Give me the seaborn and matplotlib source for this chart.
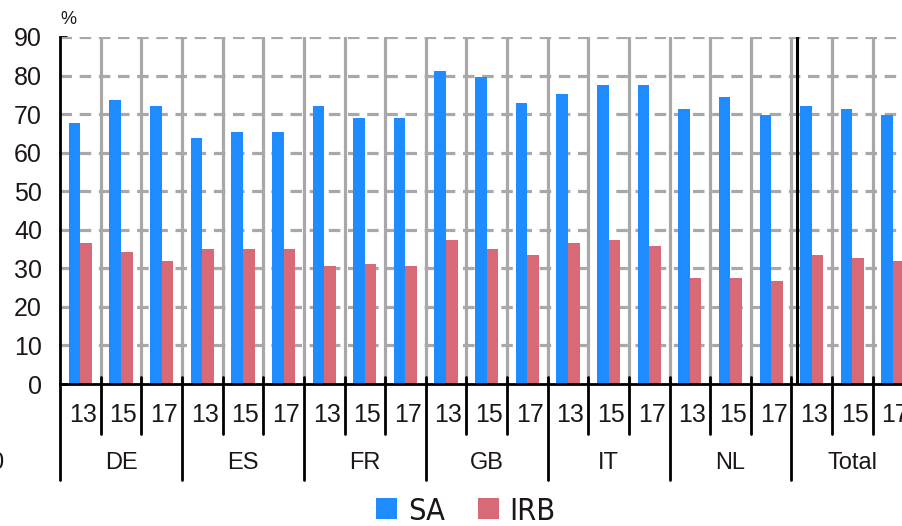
import matplotlib
matplotlib.use("Agg")
import matplotlib.pyplot as plt
from matplotlib import font_manager
import pandas as pd
import seaborn as sns

# ---- data -------------------------------------------------------------
countries = ["DE", "ES", "FR", "GB", "IT", "NL", "Total"]
years = ["13", "15", "17"]
series = ["SA", "IRB"]
sa_values = [67.6, 73.6, 72.0, 63.8, 65.4, 65.4, 72.0, 69.1, 69.1,
             81.2, 79.6, 72.9, 75.2, 77.5, 77.5, 71.3, 74.4, 69.8,
             72.1, 71.3, 69.8]
irb_values = [36.5, 34.2, 32.0, 34.9, 34.9, 34.9, 30.5, 31.2, 30.5,
              37.3, 34.9, 33.4, 36.5, 37.3, 35.8, 27.4, 27.4, 26.6,
              33.4, 32.7, 32.0]
y_ticks = [0, 10, 20, 30, 40, 50, 60, 70, 80, 90]

BLUE = "#1e8cff"
RED = "#d86a78"
GRID = "#a8a8a8"
TEXT = "#1c1716"

slots = [f"{c}-{y}" for c in countries for y in years]
rows = []
for i, s in enumerate(slots):
    rows.append({"slot": s, "series": "SA", "value": sa_values[i]})
    rows.append({"slot": s, "series": "IRB", "value": irb_values[i]})
df = pd.DataFrame(rows)

# ---- style ------------------------------------------------------------
sns.set_theme(style="white")
plt.rcParams["font.family"] = ["Liberation Sans", "DejaVu Sans"]

installed = {f.name for f in font_manager.fontManager.ttflist}
if "Liberation Sans Narrow" in installed:
    legend_font = font_manager.FontProperties(family="Liberation Sans Narrow", size=23)
else:
    legend_font = font_manager.FontProperties(family="DejaVu Sans", stretch="condensed", size=22)

W, H = 903, 526
fig = plt.figure(figsize=(W / 100, H / 100), dpi=100)
ax_left, ax_right, ax_top, ax_bottom = 60.1, 913.3, 37.0, 384.0
ax = fig.add_axes([ax_left / W, 1 - ax_bottom / H,
                   (ax_right - ax_left) / W, (ax_bottom - ax_top) / H])

sns.barplot(data=df, x="slot", y="value", hue="series", order=slots,
            hue_order=series, palette=[BLUE, RED], width=0.57,
            saturation=1, linewidth=0, ax=ax, zorder=3)

n = len(slots)
ax.set_xlim(-0.5, n - 0.5)
ax.set_ylim(0, 90)

# gridlines: dashed horizontal, solid vertical slot separators
for yv in y_ticks[1:]:
    ax.axhline(yv, color=GRID, lw=2.3, ls=(0, (3.6, 2.4)), zorder=1)
for k in range(1, n + 1):
    ax.axvline(k - 0.5, color=GRID, lw=2.3, zorder=1)
ax.axvline(17.5 + 6 / 40.6, color="black", lw=2.2, zorder=2)

# axes frame
for side in ["top", "right"]:
    ax.spines[side].set_visible(False)
for side in ["left", "bottom"]:
    ax.spines[side].set_color("black")
    ax.spines[side].set_linewidth(2.0)
    ax.spines[side].set_zorder(5)

ax.set_yticks(y_ticks)
ax.set_yticklabels([str(v) for v in y_ticks], fontsize=18, color=TEXT)
ax.tick_params(axis="y", direction="in", length=5, width=2, color="black", pad=13, left=True)
ax.set_xticks([])
ax.set_xlabel("")
ax.set_ylabel("")

# two-level category axis
trans = ax.get_xaxis_transform()
axh = ax_bottom - ax_top
up = 7 / axh
for k in range(1, n):
    low = -96 / axh if k % 3 == 0 else -50 / axh
    ax.plot([k - 0.5, k - 0.5], [up, low], color="black", lw=2.0,
            transform=trans, clip_on=False, zorder=6)
ax.plot([-0.5, -0.5], [0, -96 / axh], color="black", lw=2.0,
        transform=trans, clip_on=False, zorder=6)
for i, s in enumerate(slots):
    ax.text(i + 0.06, -31 / axh, s.split("-")[1], transform=trans,
            ha="center", va="center", fontsize=18, color=TEXT, clip_on=False)
for g, c in enumerate(countries):
    ax.text(3 * g + 1, -79 / axh, c, transform=trans, ha="center",
            va="center", fontsize=17, color=TEXT, clip_on=False)

fig.text(60 / W, 1 - 20 / H, "%", ha="left", va="center", fontsize=13, color=TEXT)
fig.text(3 / W, 1 - 463 / H, "0", ha="right", va="center", fontsize=17, color=TEXT)

# legend
handles, labels = ax.get_legend_handles_labels()
if ax.get_legend() is not None:
    ax.get_legend().remove()
fig.legend(handles, labels, loc="center", bbox_to_anchor=(466 / W, 1 - 511 / H),
           ncol=2, frameon=False, prop=legend_font, handlelength=0.68,
           handleheight=0.68, handletextpad=0.35, columnspacing=1.1,
           labelcolor=TEXT)

fig.savefig("out.png", dpi=100)
